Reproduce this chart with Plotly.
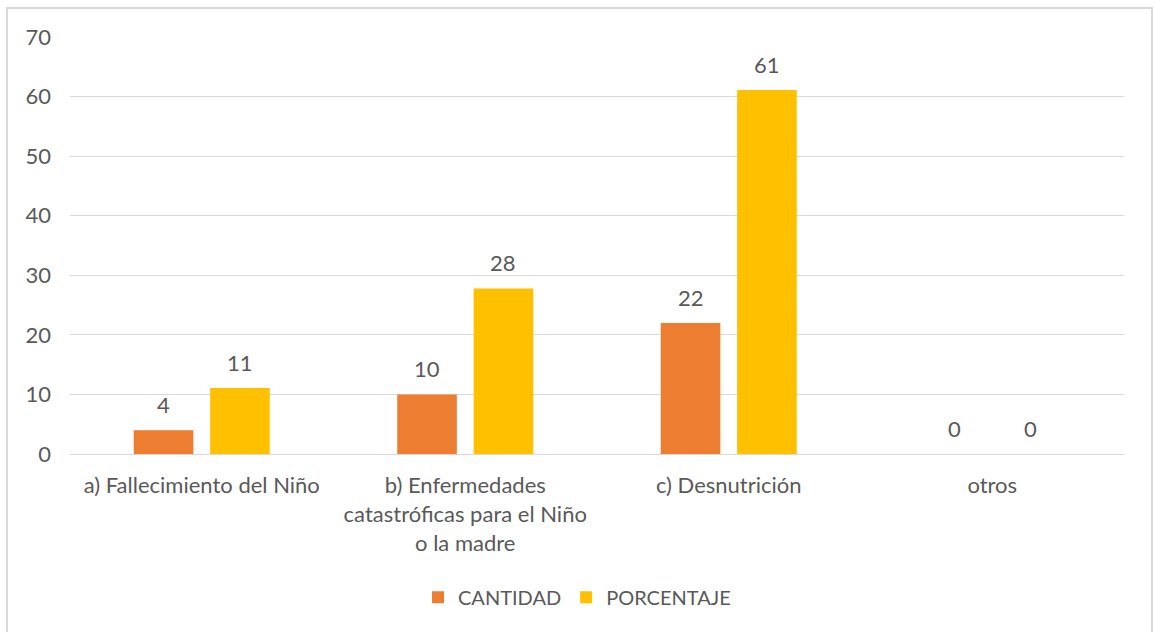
import plotly.graph_objects as go

categories = [
    "a) Fallecimiento del Niño",
    "b) Enfermedades<br>catastróficas para el Niño<br>o la madre",
    "c) Desnutrición",
    "otros",
]
cantidad = [4, 10, 22, 0]
porcentaje = [11.1, 27.8, 61.1, 0]
y_ticks = [0, 10, 20, 30, 40, 50, 60, 70]

ORANGE = "#ED7D31"
GOLD = "#FFC000"
TEXT = "#595959"
GRID = "#D9D9D9"
FONT = "Lato"

fig = go.Figure()
fig.add_trace(go.Bar(name="CANTIDAD", x=categories, y=cantidad,
                     marker=dict(color=ORANGE, line=dict(width=0))))
fig.add_trace(go.Bar(name="PORCENTAJE", x=categories, y=porcentaje,
                     marker=dict(color=GOLD, line=dict(width=0))))

annotations = []
for series, shift in ((cantidad, -38), (porcentaje, 38)):
    for c, v in zip(categories, series):
        annotations.append(dict(
            x=c, y=v, xref="x", yref="y", text=f"{v:.0f}", showarrow=False,
            xshift=shift, yshift=10, yanchor="bottom",
            font=dict(family=FONT, size=22, color=TEXT),
        ))

fig.update_layout(
    width=1154, height=632,
    margin=dict(l=70, r=30, t=37, b=178),
    paper_bgcolor="white", plot_bgcolor="white",
    barmode="group", bargap=0.42, bargroupgap=0.22,
    font=dict(family=FONT, size=22, color=TEXT),
    showlegend=True,
    legend=dict(orientation="h", x=0.5, xanchor="center", xref="container",
                y=0.055, yanchor="middle", yref="container",
                font=dict(family=FONT, size=20, color=TEXT),
                itemwidth=30, traceorder="normal"),
    annotations=annotations,
    shapes=[dict(type="rect", xref="paper", yref="paper",
                 x0=(7 - 70) / 1054, x1=(1152 - 70) / 1054,
                 y0=(454 - 640) / 417, y1=(454 - 8) / 417,
                 line=dict(color=GRID, width=2), fillcolor="rgba(0,0,0,0)",
                 layer="below")],
)
fig.update_xaxes(showgrid=False, showline=True, linecolor=GRID, linewidth=1,
                 ticks="", tickfont=dict(family=FONT, size=22, color=TEXT),
                 ticklabelstandoff=12)
fig.update_yaxes(range=[0, 70], tickvals=y_ticks, showgrid=True, gridcolor=GRID,
                 gridwidth=1, zeroline=False, showline=False, ticks="",
                 tickfont=dict(family=FONT, size=22, color=TEXT),
                 ticklabelstandoff=18)

fig.write_html("out.html", config={"displayModeBar": False},
               post_script="document.body.style.margin='0';document.body.style.overflow='hidden';")
